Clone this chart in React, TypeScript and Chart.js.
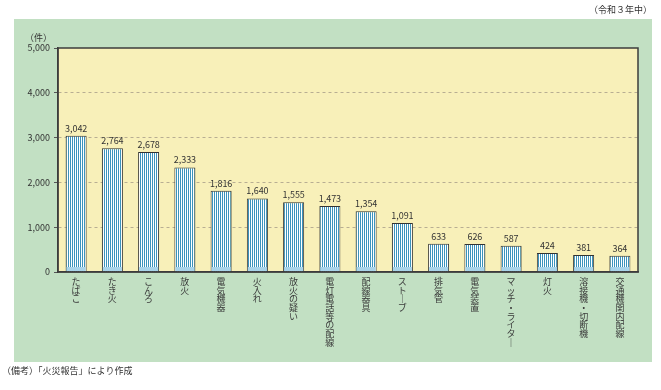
import React, { useEffect, useRef } from "react";
import { Chart, registerables } from "chart.js";

Chart.register(...registerables);

const categories = [
  "たばこ", "たき火", "こんろ", "放火", "電気機器", "火入れ", "放火の疑い", "電灯電話等の配線",
  "配線器具", "ストーブ", "排気管", "電気装置", "マッチ・ライター", "灯火", "溶接機・切断機", "交通機関内配線",
];
const values = [3042, 2764, 2678, 2333, 1816, 1640, 1555, 1473, 1354, 1091, 633, 626, 587, 424, 381, 364];
const yTicks = [0, 1000, 2000, 3000, 4000, 5000];
const titleText = "（令和３年中）";
const unitText = "（件）";
const noteText = "（備考）「火災報告」により作成";

const FONT = "'Noto Sans CJK JP', 'Noto Sans', sans-serif";

function fmt(n: number) {
  return n.toLocaleString("en-US");
}

function verticalChars(s: string) {
  return Array.from(s).map((c) => (c === "ー" ? "｜" : c));
}

export default function App() {
  const ref = useRef<HTMLCanvasElement | null>(null);
  useEffect(() => {
    const canvas = ref.current!;
    const pc = document.createElement("canvas");
    pc.width = 2;
    pc.height = 2;
    const pctx = pc.getContext("2d")!;
    pctx.fillStyle = "#ffffff";
    pctx.fillRect(0, 0, 2, 2);
    pctx.fillStyle = "#3b93bd";
    pctx.fillRect(0, 0, 1, 2);
    const pattern = canvas.getContext("2d")!.createPattern(pc, "repeat")!;

    const decor = {
      id: "decor",
      beforeDraw(chart: any) {
        const { ctx, chartArea: a } = chart;
        ctx.save();
        ctx.fillStyle = "#c2e0c3";
        ctx.fillRect(14, 19, 638, 343);
        ctx.fillStyle = "#f8f0b9";
        ctx.fillRect(a.left, a.top, a.right - a.left, a.bottom - a.top);
        ctx.restore();
      },
      afterDraw(chart: any) {
        const { ctx, chartArea: a } = chart;
        ctx.save();
        ctx.strokeStyle = "#3c3c3c";
        ctx.lineWidth = 1.5;
        ctx.strokeRect(a.left, a.top, a.right - a.left, a.bottom - a.top);
        const meta = chart.getDatasetMeta(0);
        ctx.font = `9px ${FONT}`;
        ctx.textAlign = "center";
        ctx.textBaseline = "bottom";
        meta.data.forEach((el: any, i: number) => {
          const w = el.width;
          ctx.fillStyle = "#a9d4ea";
          ctx.fillRect(el.x - w / 2 + 1, a.bottom - 5, w - 2, 4);
          ctx.fillStyle = "#333";
          ctx.fillText(fmt(values[i]), el.x, el.y - 3);
        });
        ctx.font = `9px ${FONT}`;
        ctx.fillStyle = "#333";
        ctx.textAlign = "right";
        ctx.textBaseline = "middle";
        ctx.fillText(titleText, 652, 10);
        ctx.fillText(unitText, 52, 38);
        ctx.textAlign = "left";
        ctx.fillText(noteText, 2, 371);
        ctx.restore();
      },
    };

    const chart = new Chart(canvas, {
      type: "bar",
      data: {
        labels: categories,
        datasets: [
          {
            data: values,
            backgroundColor: pattern,
            borderColor: "#333333",
            borderWidth: 1,
            barPercentage: 0.58,
            categoryPercentage: 1,
          },
        ],
      },
      plugins: [decor],
      options: {
        animation: false,
        responsive: false,
        maintainAspectRatio: false,
        layout: { padding: { left: 0, right: 23, top: 48, bottom: 0 } },
        plugins: { legend: { display: false }, tooltip: { enabled: false } },
        scales: {
          x: {
            grid: { display: false, drawTicks: false },
            border: { display: true, color: "#3c3c3c", width: 1.5 },
            ticks: {
              autoSkip: false,
              maxRotation: 0,
              minRotation: 0,
              padding: 5,
              color: "#3a3a3a",
              font: { family: FONT, size: 9, lineHeight: 0.97 },
              callback: (_v: any, i: number) => verticalChars(categories[i]),
            },
            afterFit: (s: any) => {
              s.height = 118;
            },
          },
          y: {
            min: 0,
            max: 5000,
            afterBuildTicks: (s: any) => {
              s.ticks = yTicks.map((v) => ({ value: v }));
            },
            grid: {
              color: (c: any) => (c.tick && c.tick.value > 0 && c.tick.value < 5000 ? "#b8ae92" : "rgba(0,0,0,0)"),
              tickColor: "#555",
              tickLength: 4,
              lineWidth: 1,
            },
            border: { display: true, color: "#3c3c3c", width: 1.5, dash: [3, 3] },
            ticks: {
              padding: 4,
              color: "#333",
              font: { family: FONT, size: 9 },
              callback: (v: any) => fmt(Number(v)),
            },
            afterFit: (s: any) => {
              s.width = 58;
            },
          },
        },
      } as any,
    });
    return () => chart.destroy();
  }, []);
  return (
    <div style={{ position: "absolute", left: 0, top: 0, width: 661, height: 390, background: "#fff" }}>
      <canvas ref={ref} width={661} height={390} style={{ width: 661, height: 390, display: "block" }} />
    </div>
  );
}
